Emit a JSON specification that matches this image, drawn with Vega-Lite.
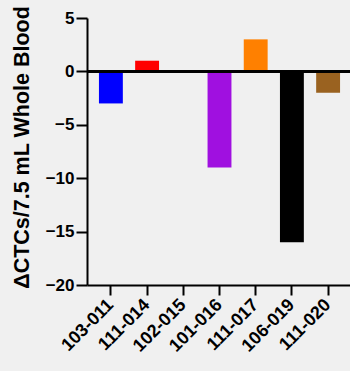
{
  "$schema": "https://vega.github.io/schema/vega-lite/v6.json",
  "width": 265,
  "height": 267,
  "autosize": "none",
  "padding": {"left": 87, "top": 18, "right": 0, "bottom": 86},
  "background": "#f0f0f0",
  "config": {"view": {"stroke": null}, "font": "Liberation Sans"},
  "data": {
    "values": [
      {"id": "103-011", "value": -3},
      {"id": "111-014", "value": 1},
      {"id": "102-015", "value": 0},
      {"id": "101-016", "value": -9},
      {"id": "111-017", "value": 3},
      {"id": "106-019", "value": -16},
      {"id": "111-020", "value": -2}
    ]
  },
  "layer": [
    {
      "mark": {"type": "bar"},
      "encoding": {
        "x": {
          "field": "id",
          "type": "nominal",
          "sort": null,
          "scale": {"paddingInner": 0.34, "paddingOuter": 0.33},
          "axis": {
            "title": null,
            "labelAngle": -45,
            "labelAlign": "right",
            "labelBaseline": "middle",
            "labelFontSize": 18,
            "labelFontWeight": "bold",
            "labelColor": "black",
            "labelPadding": 7,
            "tickSize": 10,
            "tickWidth": 2,
            "tickColor": "black",
            "domainColor": "black",
            "domainWidth": 2,
            "grid": false
          }
        },
        "y": {
          "field": "value",
          "type": "quantitative",
          "scale": {"domain": [-20, 5], "nice": false},
          "axis": {
            "values": [-20, -15, -10, -5, 0, 5],
            "title": "ΔCTCs/7.5 mL Whole Blood",
            "titleFontSize": 21.5,
            "titleFontWeight": "bold",
            "titleColor": "black",
            "titleX": -65,
            "titleY": 129,
            "titleAlign": "center",
            "titleBaseline": "middle",
            "titleAngle": -90,
            "labelFontSize": 17,
            "labelFontWeight": "bold",
            "labelColor": "black",
            "labelPadding": 2,
            "tickSize": 11,
            "tickWidth": 2,
            "tickColor": "black",
            "domainColor": "black",
            "domainWidth": 2,
            "grid": false
          }
        },
        "color": {
          "field": "id",
          "type": "nominal",
          "sort": null,
          "scale": {
            "domain": ["103-011", "111-014", "102-015", "101-016", "111-017", "106-019", "111-020"],
            "range": ["#0000ff", "#ff0000", "#808080", "#a010e0", "#ff8000", "#000000", "#9a6220"]
          },
          "legend": null
        }
      }
    },
    {
      "mark": {"type": "rule", "color": "black", "strokeWidth": 2},
      "encoding": {"y": {"datum": 0}}
    }
  ]
}
